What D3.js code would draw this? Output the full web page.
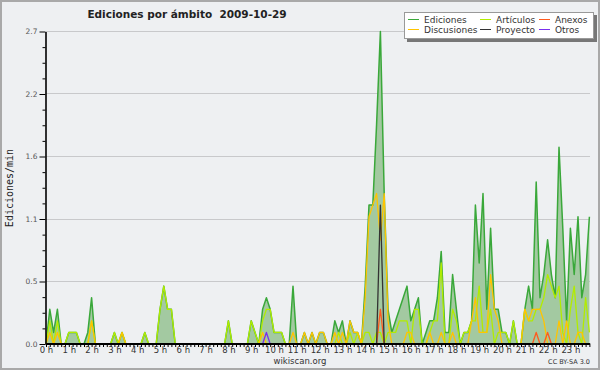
<!DOCTYPE html>
<html>
<head>
<meta charset="utf-8">
<title>Ediciones por ámbito 2009-10-29</title>
<script src="https://d3js.org/d3.v7.min.js"></script>
<style>
  body { margin: 0; background: #eef0f2; }
  svg text { font-family: "DejaVu Sans", sans-serif; }
  .grid-line { stroke: #c8c9cb; stroke-width: 1px; }
  .series { fill: none; stroke-linejoin: round; }
</style>
</head>
<body>
<script>
  const width = 600;
  const height = 370;

  // one value every 10 minutes, 6 per hour (edits per minute)
  const hourLabels = d3.range(24).map(function(h) { return h + " h"; });
  const yTickLabels = ["0.0", "0.5", "1.1", "1.6", "2.2", "2.7"];
  const yMax = 2.7;

  const ediciones = [
    0, .3, .1, .3, 0, 0,      .1, .1, .1, 0, 0, .1,     .4, 0, 0, 0, 0, 0,        .1, 0, .1, 0, 0, 0,
    0, 0, .1, 0, 0, 0,        .3, .5, .3, .3, 0, 0,     0, 0, 0, 0, 0, 0,         0, 0, 0, 0, 0, 0,
    .2, 0, 0, 0, 0, 0,        .2, .1, 0, .3, .4, .3,    .1, .1, .1, 0, 0, .5,     0, 0, .1, 0, .1, 0,
    .1, .1, 0, 0, .2, .1,     .2, 0, .2, .1, .1, 0,     .5, 1.2, 1.2, 1.9, 2.7, 1.3, .3, .1, .2, .3, .4, .5,
    .2, .3, .4, 0, .1, .2,    .2, .4, .8, .1, .1, .6,   .3, 0, .1, .1, .2, 1.2,   .7, 1.3, .3, 1.0, .3, .3,
    .1, .1, 0, .2, 0, 0,      .3, .5, .3, 1.4, .4, .6,  .9, .6, .4, 1.7, 1.0, .2, 1.0, .6, 1.1, .4, .6, 1.1
  ];
  const articulos = [
    0, .2, 0, .2, 0, 0,       .1, .1, .1, 0, 0, 0,      .2, 0, 0, 0, 0, 0,        .1, 0, .1, 0, 0, 0,
    0, 0, .1, 0, 0, 0,        .3, .5, .3, .3, 0, 0,     0, 0, 0, 0, 0, 0,         0, 0, 0, 0, 0, 0,
    .2, 0, 0, 0, 0, 0,        .2, .1, 0, .2, .3, .3,    .1, .1, .1, 0, 0, 0,      0, 0, 0, 0, 0, 0,
    0, 0, 0, 0, 0, .1,        0, 0, .1, 0, .1, 0,       .1, .1, 0, .1, .1, 0,     .1, .1, .1, .2, .2, .2,
    0, .3, .3, 0, 0, .1,      .2, .2, .7, 0, 0, .3,     .2, 0, .1, .1, .2, .2,    .5, .1, .1, .3, 0, .1,
    .1, .1, 0, .2, 0, 0,      .3, .2, .2, .3, .3, .4,   .6, .5, .4, .5, .1, 0,    .3, .5, .1, 0, .4, .1
  ];
  const discusiones = [
    0, .1, 0, .1, 0, 0,       0, 0, 0, 0, 0, 0,         .2, 0, 0, 0, 0, 0,        0, 0, .1, 0, 0, 0,
    0, 0, 0, 0, 0, 0,         0, 0, 0, 0, 0, 0,         0, 0, 0, 0, 0, 0,         0, 0, 0, 0, 0, 0,
    0, 0, 0, 0, 0, 0,         0, 0, 0, .1, 0, 0,        0, 0, 0, 0, 0, .1,        0, 0, .1, 0, .1, 0,
    .1, .1, 0, 0, .1, 0,      .1, 0, .2, .1, .1, 0,     .4, 1.1, 1.2, 1.3, .9, 1.3, .2, 0, 0, 0, 0, .1,
    .1, 0, 0, 0, 0, .1,       0, 0, .1, 0, 0, .1,       0, 0, 0, 0, .2, .4,       .1, .1, .1, .6, .3, .2,
    0, 0, 0, 0, 0, 0,         .3, .2, .3, .3, .3, .2,   0, 0, 0, .2, 0, .2,       0, 0, .1, .1, 0, 0
  ];
  const anexos = [
    0, 0, 0, 0, 0, 0,   0, 0, 0, 0, 0, 0,   0, 0, 0, 0, 0, 0,   0, 0, 0, 0, 0, 0,
    0, 0, 0, 0, 0, 0,   0, 0, 0, 0, 0, 0,   0, 0, 0, 0, 0, 0,   0, 0, 0, 0, 0, 0,
    0, 0, 0, 0, 0, 0,   0, 0, 0, 0, 0, 0,   0, 0, 0, 0, 0, 0,   0, 0, 0, 0, 0, 0,
    0, 0, 0, 0, 0, 0,   0, 0, 0, 0, 0, 0,   0, 0, 0, 0, .3, 0,  0, 0, 0, 0, 0, 0,
    0, 0, 0, 0, 0, 0,   0, 0, 0, 0, 0, 0,   0, 0, 0, 0, 0, 0,   0, 0, 0, 0, 0, 0,
    0, 0, 0, 0, 0, 0,   0, 0, 0, .1, 0, 0,  .1, 0, 0, 0, 0, 0,  0, 0, 0, 0, 0, 0
  ];
  const proyecto = [
    0, 0, 0, 0, 0, 0,   0, 0, 0, 0, 0, 0,   0, 0, 0, 0, 0, 0,   0, 0, 0, 0, 0, 0,
    0, 0, 0, 0, 0, 0,   0, 0, 0, 0, 0, 0,   0, 0, 0, 0, 0, 0,   0, 0, 0, 0, 0, 0,
    0, 0, 0, 0, 0, 0,   0, 0, 0, 0, 0, 0,   0, 0, 0, 0, 0, 0,   0, 0, 0, 0, 0, 0,
    0, 0, 0, 0, 0, 0,   0, 0, 0, 0, 0, 0,   0, 0, 0, 0, 1.2, 0, 0, 0, 0, 0, 0, 0,
    0, 0, 0, 0, 0, 0,   0, 0, 0, 0, 0, 0,   0, 0, 0, 0, 0, 0,   0, 0, 0, 0, 0, 0,
    0, 0, 0, 0, 0, 0,   0, 0, 0, 0, 0, 0,   0, 0, 0, 0, 0, 0,   0, 0, 0, 0, 0, 0
  ];
  const otros = [
    0, 0, 0, 0, 0, 0,   0, 0, 0, 0, 0, 0,   0, 0, 0, 0, 0, 0,   0, 0, 0, 0, 0, 0,
    0, 0, 0, 0, 0, 0,   0, 0, 0, 0, 0, 0,   0, 0, 0, 0, 0, 0,   0, 0, 0, 0, 0, 0,
    0, 0, 0, 0, 0, 0,   0, 0, 0, 0, .1, 0,  0, 0, 0, 0, 0, 0,   0, 0, 0, 0, 0, 0,
    0, 0, 0, 0, 0, 0,   0, 0, 0, 0, 0, 0,   0, 0, 0, 0, 0, 0,   0, 0, 0, 0, 0, 0,
    0, 0, 0, 0, 0, 0,   0, 0, 0, 0, 0, 0,   0, 0, 0, 0, 0, 0,   0, 0, 0, 0, 0, 0,
    0, 0, 0, 0, 0, 0,   0, 0, 0, 0, 0, 0,   0, 0, 0, 0, 0, 0,   0, 0, 0, 0, 0, 0
  ];

  const minutes = ediciones.map(function(d, i) { return i * 10; });

  const series = [
    {name: "Ediciones", values: ediciones, color: "#3aa83a", width: 1.5},
    {name: "Artículos", values: articulos, color: "#b2ec00", width: 1.3},
    {name: "Anexos", values: anexos, color: "#ff5a1e", width: 1.3},
    {name: "Discusiones", values: discusiones, color: "#ffc400", width: 1.3},
    {name: "Proyecto", values: proyecto, color: "#333333", width: 1.3},
    {name: "Otros", values: otros, color: "#7a30ee", width: 1.3}
  ];
  // drawing order: total first, then the namespaces on top
  const drawOrder = ["Ediciones", "Artículos", "Discusiones", "Anexos", "Proyecto", "Otros"];

  const xScale = d3.scaleLinear()
    .domain([0, 1430])
    .range([46, 589.4]);

  const yScale = d3.scaleLinear()
    .domain([0, yMax])
    .range([344, 31.5]);

  const majorVals = yTickLabels.map(function(d, i) { return yMax * i / 5; });
  const minorVals = d3.range(21).map(function(i) { return yMax * i / 20; })
    .filter(function(d, i) { return i % 4 !== 0; });

  const svg = d3.select("body")
    .append("svg")
      .attr("width", width)
      .attr("height", height);

  svg.append("rect")
    .attr("x", 1).attr("y", 1)
    .attr("width", width - 2).attr("height", height - 2)
    .attr("fill", "#eef0f2")
    .attr("stroke", "#a9a9a9")
    .attr("stroke-width", 2);

  // grid
  svg.append("g")
    .selectAll("line")
    .data(majorVals.slice(1))
    .enter()
    .append("line")
      .classed("grid-line", true)
      .attr("x1", xScale(0))
      .attr("x2", 590)
      .attr("y1", function(d) { return Math.floor(yScale(d)) + 0.5; })
      .attr("y2", function(d) { return Math.floor(yScale(d)) + 0.5; });

  // total area
  const area = d3.area()
    .x(function(d, i) { return xScale(minutes[i]); })
    .y0(yScale(0))
    .y1(function(d) { return yScale(d); });

  svg.append("path")
    .datum(ediciones)
    .attr("d", area)
    .attr("fill", "#a3c9a1");

  const line = d3.line()
    .x(function(d, i) { return xScale(minutes[i]); })
    .y(function(d) { return yScale(d); });

  drawOrder.forEach(function(name) {
    const s = series.find(function(d) { return d.name === name; });
    svg.append("path")
      .datum(s.values)
      .classed("series", true)
      .attr("d", line)
      .attr("stroke", s.color)
      .attr("stroke-width", s.width);
  });

  // y axis (d3 adds 0.5 to the domain, so shift back half a pixel)
  const yAxis = svg.append("g")
    .attr("transform", "translate(45.5,0)")
    .call(d3.axisLeft(yScale)
      .tickValues(majorVals)
      .tickSize(6)
      .tickSizeOuter(0)
      .tickPadding(2)
      .tickFormat(function(d, i) { return yTickLabels[i]; }));
  yAxis.select(".domain").attr("stroke", "#000").attr("stroke-width", 1.6);
  yAxis.selectAll(".tick text")
    .attr("font-family", "DejaVu Sans, sans-serif")
    .attr("font-size", 7.5)
    .attr("fill", "#555");

  svg.append("g")
    .attr("transform", "translate(45.5,0)")
    .call(d3.axisLeft(yScale)
      .tickValues(minorVals)
      .tickSize(3)
      .tickSizeOuter(0)
      .tickFormat(""))
    .select(".domain").remove();

  // x axis: 2px black line over rows 343-344, hiding zero-valued lines
  const xAxis = svg.append("g")
    .attr("transform", "translate(0," + (yScale(0) - 0.5) + ")")
    .call(d3.axisBottom(xScale)
      .tickValues(d3.range(0, 1431, 10))
      .tickSize(3.5)
      .tickSizeOuter(0)
      .tickFormat(""));
  xAxis.select(".domain").attr("stroke", "#000").attr("stroke-width", 2);

  const xLabels = svg.append("g")
    .attr("transform", "translate(0," + yScale(0) + ")")
    .call(d3.axisBottom(xScale)
      .tickValues(hourLabels.map(function(d, i) { return i * 60; }))
      .tickSize(0)
      .tickPadding(3)
      .tickFormat(function(d, i) { return hourLabels[i]; }));
  xLabels.select(".domain").remove();
  xLabels.selectAll(".tick text")
    .attr("font-family", "DejaVu Sans, sans-serif")
    .attr("font-size", 8.5)
    .attr("fill", "#333");

  // titles
  svg.append("text")
    .attr("x", 187)
    .attr("y", 18)
    .attr("text-anchor", "middle")
    .style("white-space", "pre")
    .attr("font-size", 10.5)
    .attr("font-weight", "bold")
    .attr("fill", "#222")
    .text("Ediciones por ámbito  2009-10-29");

  svg.append("text")
    .attr("transform", "translate(13,188) rotate(-90)")
    .attr("text-anchor", "middle")
    .style("font-family", "'DejaVu Sans Mono', monospace")
    .attr("font-size", 10)
    .attr("fill", "#222")
    .text("Ediciones/min");

  svg.append("text")
    .attr("x", 300)
    .attr("y", 364)
    .attr("text-anchor", "middle")
    .attr("font-size", 8.5)
    .attr("fill", "#333")
    .text("wikiscan.org");

  svg.append("text")
    .attr("x", 590)
    .attr("y", 364)
    .attr("text-anchor", "end")
    .attr("font-size", 6.5)
    .attr("fill", "#333")
    .text("CC BY-SA 3.0");

  // legend
  const legend = svg.append("g");
  legend.append("rect")
    .attr("x", 407).attr("y", 15)
    .attr("width", 190).attr("height", 27)
    .attr("fill", "#777");
  legend.append("rect")
    .attr("x", 404.5).attr("y", 12.5)
    .attr("width", 189).attr("height", 26)
    .attr("fill", "#fff")
    .attr("stroke", "#999");

  const colX = [408, 480, 539];
  const rowY = [19.5, 29.5];
  const legendOrder = ["Ediciones", "Artículos", "Anexos", "Discusiones", "Proyecto", "Otros"];

  const item = legend.selectAll("g.item")
    .data(legendOrder.map(function(n) { return series.find(function(d) { return d.name === n; }); }))
    .enter()
    .append("g")
      .classed("item", true)
      .attr("transform", function(d, i) {
        return "translate(" + colX[i % 3] + "," + rowY[Math.floor(i / 3)] + ")";
      });

  item.append("line")
    .attr("x1", 0).attr("x2", 11)
    .attr("y1", 0).attr("y2", 0)
    .attr("stroke", function(d) { return d.color; })
    .attr("stroke-width", 1);

  item.append("text")
    .attr("x", 16)
    .attr("y", 3.3)
    .attr("font-size", 9)
    .attr("fill", "#333")
    .text(function(d) { return d.name; });
</script>
</body>
</html>
